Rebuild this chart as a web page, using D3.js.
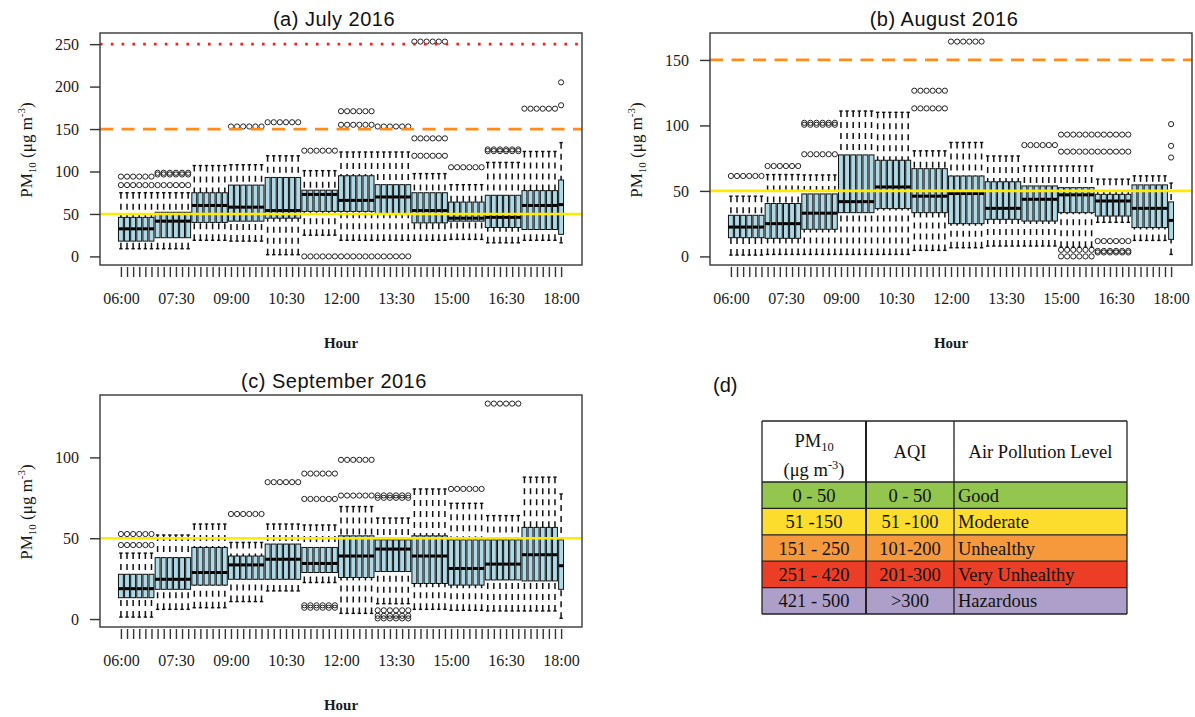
<!DOCTYPE html>
<html>
<head>
<meta charset="utf-8">
<script src="https://cdn.jsdelivr.net/npm/d3@7/dist/d3.min.js"></script>
<style>
  body { margin: 0; background: #fff; }
  svg { display: block; }
</style>
</head>
<body>
<svg id="fig" width="1195" height="717"></svg>
<script>
/* ---------- data ---------- */
// hourly blocks: 06..17 are drawn as 6 ten-minute boxes each, 18:00 is a single box
const hours = ["06", "07", "08", "09", "10", "11", "12", "13", "14", "15", "16", "17", "18"];
const tickLabels = ["06:00", "07:30", "09:00", "10:30", "12:00", "13:30", "15:00", "16:30", "18:00"];

// (a) July 2016
const julLow  = [9, 9, 19, 18, 2, 25, 19, 19, 19, 20, 16, 19, 16];
const julQ1   = [18, 22, 40, 41.5, 45, 53, 53, 50, 39.5, 41.5, 34, 31.7, 26];
const julMed  = [32.5, 41.5, 60, 58, 54, 73, 66, 70, 54, 45, 46, 60, 61];
const julQ3   = [46, 52, 75, 84, 93, 78, 95, 84.5, 75, 64, 72, 77.5, 90];
const julHigh = [75, 75, 107, 108, 118.5, 101, 123, 123, 97.5, 84.5, 110.7, 123.6, 134];
const julOut  = [[84, 94], [84, 96.5, 98.5], [], [153], [158], [0, 124.5],
                 [0, 155, 171], [0, 153], [118.5, 139, 253], [105], [124, 126], [174], [178, 205]];

// (b) August 2016
const augLow  = [1, 1.5, 1.5, 1.5, 1.5, 4.6, 6.6, 7.9, 7.9, 7, 26, 12.2, 1.5];
const augQ1   = [14.3, 13.8, 20.7, 33.4, 36.5, 33.4, 25, 28.3, 27, 33.4, 30.8, 22, 13];
const augMed  = [22.4, 25, 33, 41.8, 53, 46, 48, 36.7, 43.6, 47, 42.3, 36.7, 27.5];
const augQ3   = [31.4, 40.4, 47.7, 77.5, 73.4, 67, 61.4, 57, 53.8, 52.5, 47.4, 54.6, 41.6];
const augHigh = [46, 62.5, 62.2, 111, 110, 80.6, 87, 76.7, 69, 69, 59, 61.5, 56];
const augOut  = [[61.4], [69], [78, 100.5, 102], [], [], [113, 126.5], [164], [], [85],
                 [0, 5, 80, 93], [3, 4.2, 11.7, 80, 93], [], [75.5, 84.4, 101]];

// (c) September 2016
const sepLow  = [1.2, 6, 7, 10.8, 17.4, 22.6, 3.5, 9.5, 6, 5.4, 5, 5, 0.5];
const sepQ1   = [13.2, 18.4, 21, 24.6, 24.6, 28.8, 25.7, 29.4, 22, 21, 24.2, 23.6, 18.4];
const sepMed  = [18.8, 24.6, 28.8, 33.5, 37, 34.4, 39, 43.3, 39, 31.3, 34, 39.8, 33];
const sepQ3   = [27.7, 38, 44.3, 39, 46.4, 44.3, 51.5, 49, 51.5, 49, 49, 56.7, 49];
const sepHigh = [40.8, 52, 58.8, 47.4, 58.8, 58.2, 69.6, 62.5, 80.5, 71.6, 64, 87.8, 77.4];
const sepOut  = [[45.8, 52.6], [], [], [65], [84.7], [7, 8.5, 74.3, 90], [76.4, 98.5],
                 [0.4, 2, 5.4, 75, 76.5], [], [80.5], [133.3], [], []];

// AQI guide lines
const guideValues = [50, 150, 250];

// (d) table
const pmRanges  = ["0 - 50", "51 -150", "151 - 250", "251 - 420", "421 - 500"];
const aqiRanges = ["0 - 50", "51 -100", "101-200", "201-300", ">300"];
const levels    = ["Good", "Moderate", "Unhealthy", "Very Unhealthy", "Hazardous"];
const levelColors = ["#92c64f", "#fcdc2c", "#f6993c", "#ec3e26", "#ad9fca"];

/* ---------- setup ---------- */
const svg = d3.select("#fig");
const serif = "'Liberation Serif', 'Times New Roman', serif";
const sans = "'Liberation Sans', Arial, sans-serif";
const nSlots = 73;
const slots = d3.range(nSlots).map((i) => ({ pos: i + 1, h: Math.min(Math.floor(i / 6), 12) }));

const guideStyle = [
  { color: "#ffea00", dash: null, width: 2.6 },
  { color: "#ff8c1a", dash: "13,8.5", width: 2.8 },
  { color: "#ff1a1a", dash: "2.6,8.2", width: 2.8 },
];

const panels = [
  { title: "(a) July 2016", left: 100, top: 33, low: julLow, q1: julQ1, med: julMed, q3: julQ3, high: julHigh, out: julOut,
    yTicks: [0, 50, 100, 150, 200, 250], guides: 3 },
  { title: "(b) August 2016", left: 710, top: 33, low: augLow, q1: augQ1, med: augMed, q3: augQ3, high: augHigh, out: augOut,
    yTicks: [0, 50, 100, 150], guides: 2 },
  { title: "(c) September 2016", left: 100, top: 395, low: sepLow, q1: sepQ1, med: sepMed, q3: sepQ3, high: sepHigh, out: sepOut,
    yTicks: [0, 50, 100], guides: 1 },
];
const pw = 482, ph = 232;

/* ---------- one box-plot panel ---------- */
function drawPanel(p) {
  const g = svg.append("g");
  const bottom = p.top + ph;

  // R-style 4% padding on both axes
  const xPad = 0.04 * nSlots;
  const x = d3.scaleLinear().domain([0.5 - xPad, nSlots + 0.5 + xPad]).range([p.left, p.left + pw]);
  const [mn, mx] = d3.extent([...p.low, ...p.high, ...p.out.flat()]);
  const yPad = 0.04 * (mx - mn);
  const y = d3.scaleLinear().domain([mn - yPad, mx + yPad]).range([bottom, p.top]);
  const bw = (x(1.8) - x(1));

  const box = g.selectAll("g.slot").data(slots).join("g").attr("class", "slot");

  // whiskers (dashed, from end to box) + staples
  box.append("line")
    .attr("x1", (d) => x(d.pos)).attr("x2", (d) => x(d.pos))
    .attr("y1", (d) => y(p.high[d.h])).attr("y2", (d) => y(p.q3[d.h]))
    .attr("stroke", "#111").attr("stroke-width", 1.5).attr("stroke-dasharray", "6,5");
  box.append("line")
    .attr("x1", (d) => x(d.pos)).attr("x2", (d) => x(d.pos))
    .attr("y1", (d) => y(p.low[d.h])).attr("y2", (d) => y(p.q1[d.h]))
    .attr("stroke", "#111").attr("stroke-width", 1.5).attr("stroke-dasharray", "6,5");
  ["high", "low"].forEach((k) => {
    box.append("line")
      .attr("x1", (d) => x(d.pos) - 1.7).attr("x2", (d) => x(d.pos) + 1.7)
      .attr("y1", (d) => y(p[k][d.h])).attr("y2", (d) => y(p[k][d.h]))
      .attr("stroke", "#111").attr("stroke-width", 1.4);
  });

  // boxes
  box.append("rect")
    .attr("x", (d) => x(d.pos) - bw / 2)
    .attr("width", bw)
    .attr("y", (d) => y(p.q3[d.h]))
    .attr("height", (d) => y(p.q1[d.h]) - y(p.q3[d.h]))
    .attr("fill", "#add8e6").attr("stroke", "#111").attr("stroke-width", 1);
  box.append("line")
    .attr("x1", (d) => x(d.pos) - bw / 2).attr("x2", (d) => x(d.pos) + bw / 2)
    .attr("y1", (d) => y(p.med[d.h])).attr("y2", (d) => y(p.med[d.h]))
    .attr("stroke", "#000").attr("stroke-width", 3);

  // outliers
  box.selectAll("circle")
    .data((d) => p.out[d.h].map((v) => ({ pos: d.pos, v })))
    .join("circle")
    .attr("cx", (d) => x(d.pos)).attr("cy", (d) => y(d.v)).attr("r", 2.6)
    .attr("fill", "none").attr("stroke", "#222").attr("stroke-width", 1);

  // guide lines
  guideValues.slice(0, p.guides).forEach((v, i) => {
    const s = guideStyle[i];
    g.append("line")
      .attr("x1", p.left).attr("x2", p.left + pw)
      .attr("y1", y(v)).attr("y2", y(v))
      .attr("stroke", s.color).attr("stroke-width", s.width)
      .attr("stroke-dasharray", s.dash);
  });

  // frame
  g.append("rect").attr("x", p.left).attr("y", p.top).attr("width", pw).attr("height", ph)
    .attr("fill", "none").attr("stroke", "#444").attr("stroke-width", 1.5);

  // axes
  const yAxis = g.append("g").attr("transform", `translate(${p.left},0)`)
    .call(d3.axisLeft(y).tickValues(p.yTicks).tickSize(10).tickPadding(11));
  const xAxis = g.append("g").attr("transform", `translate(0,${bottom + 2})`)
    .call(d3.axisBottom(x).tickValues(slots.map((d) => d.pos)).tickSize(10).tickPadding(16)
      .tickFormat((d, i) => (i % 9 === 0 ? tickLabels[i / 9] : "")));
  [yAxis, xAxis].forEach((a) => {
    a.select(".domain").remove();
    a.selectAll("line").attr("stroke", "#333").attr("stroke-width", 1.4);
    a.selectAll("text").attr("font-family", serif).attr("font-size", 16).attr("fill", "#1a1a1a");
  });

  // titles
  const cx = p.left + pw / 2;
  g.append("text").attr("x", cx - 7).attr("y", p.top - 7)
    .attr("text-anchor", "middle").attr("font-family", sans).attr("font-size", 20)
    .attr("letter-spacing", 0.5).attr("fill", "#111").text(p.title);
  g.append("text").attr("x", cx).attr("y", bottom + 83)
    .attr("text-anchor", "middle").attr("font-family", serif).attr("font-size", 15)
    .attr("font-weight", "bold").attr("fill", "#1a1a1a").text("Hour");

  const yl = g.append("text")
    .attr("transform", `translate(${p.left - 68.5},${p.top + 117}) rotate(-90)`)
    .attr("text-anchor", "middle").attr("font-family", serif).attr("font-size", 17).attr("fill", "#1a1a1a");
  yl.append("tspan").text("PM");
  yl.append("tspan").attr("font-size", 11).attr("dy", 4).text("10");
  yl.append("tspan").attr("dy", -4).text(" (\u03bcg m");
  yl.append("tspan").attr("font-size", 11).attr("dy", -7).text("-3");
  yl.append("tspan").attr("dy", 7).text(")");
}

panels.forEach(drawPanel);

/* ---------- (d) AQI table ---------- */
const tg = svg.append("g");
tg.append("text").attr("x", 713).attr("y", 392).attr("font-family", sans).attr("font-size", 20)
  .attr("fill", "#111").text("(d)");

const cols = [762, 866, 954, 1127];
const headTop = 421, headBottom = 482;
const rowY = d3.scaleBand().domain(levels).range([headBottom, 614]);

tg.selectAll("rect.row").data(levels).join("rect").attr("class", "row")
  .attr("x", cols[0]).attr("width", cols[3] - cols[0])
  .attr("y", (d) => rowY(d)).attr("height", rowY.bandwidth())
  .attr("fill", (d, i) => levelColors[i]);

// grid lines
const gridStroke = "#222";
[headTop, ...levels.map((d) => rowY(d)), 614].forEach((yy) => {
  tg.append("line").attr("x1", cols[0]).attr("x2", cols[3]).attr("y1", yy).attr("y2", yy)
    .attr("stroke", gridStroke).attr("stroke-width", 1.3);
});
cols.forEach((xx, i) => {
  tg.append("line").attr("x1", xx).attr("x2", xx).attr("y1", headTop).attr("y2", 614)
    .attr("stroke", gridStroke).attr("stroke-width", i === 1 ? 2 : 1.3);
});

const cell = (xx, yy, anchor, txt) =>
  tg.append("text").attr("x", xx).attr("y", yy).attr("text-anchor", anchor)
    .attr("font-family", serif).attr("font-size", 18.5).attr("fill", "#111").text(txt);

const c1 = (cols[0] + cols[1]) / 2, c2 = (cols[1] + cols[2]) / 2, c3 = cols[2] + 4;
levels.forEach((lv, i) => {
  const by = rowY(lv) + rowY.bandwidth() / 2 + 6.5;
  cell(c1, by, "middle", pmRanges[i]);
  cell(c2, by, "middle", aqiRanges[i]);
  cell(c3, by, "start", lv);
});

// header
const h1 = cell(c1, 447, "middle", "PM");
h1.append("tspan").attr("font-size", 12.5).attr("dy", 4).text("10");
const h2 = cell(c1, 476, "middle", "(\u03bcg m");
h2.append("tspan").attr("font-size", 12.5).attr("dy", -7).text("-3");
h2.append("tspan").attr("dy", 7).text(")");
cell(c2, 458, "middle", "AQI");
cell((cols[2] + cols[3]) / 2, 458, "middle", "Air Pollution Level");
</script>
</body>
</html>
